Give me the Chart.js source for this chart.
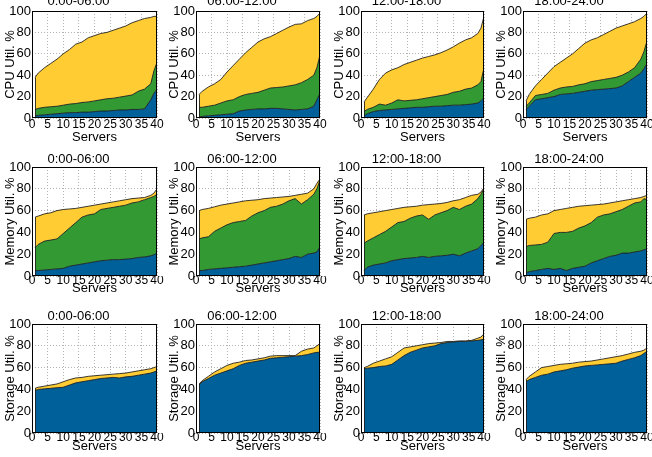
<!DOCTYPE html>
<html>
<head>
<meta charset="utf-8">
<script src="https://cdn.jsdelivr.net/npm/chart.js@4.4.1/dist/chart.umd.min.js"></script>
<style>
  html, body { margin: 0; padding: 0; background: #fff; overflow: hidden; }
  body { position: relative; width: 652px; height: 457px; }
  canvas { position: absolute; }
</style>
</head>
<body>
<script>
// server index on the x axis (servers sorted by utilisation)
const servers = [1, 2, 4, 6, 8, 10, 12, 14, 16, 18, 20, 22, 24, 26, 28, 30, 32, 34, 36, 38, 39, 40];
const periods = ['0:00-06:00', '06:00-12:00', '12:00-18:00', '18:00-24:00'];
const metricLabels = ['CPU Util. %', 'Memory Util. %', 'Storage Util. %'];

// cumulative top of each layer, one array per period
const cpuBlue = [
  [2, 2.5, 3, 3.5, 4, 4.5, 5, 5, 5.5, 5.5, 6, 6.5, 6.5, 7, 7.5, 7.5, 8, 8, 8.5, 17, 23, 27],
  [1, 1.5, 2, 2.5, 3, 3.5, 4, 6.5, 7.5, 8, 8.5, 8.5, 9, 9, 8.5, 8, 7.5, 8, 8.5, 11, 17, 23],
  [2, 4, 6, 7, 7.5, 8, 8.5, 9, 9.5, 10, 10, 10.5, 11, 11, 11.5, 12, 12, 12.5, 13, 14, 16, 19],
  [8, 11, 17, 18, 19, 20, 22, 22.5, 23, 24, 25, 26, 26.5, 27, 27.5, 28, 30, 34, 38, 42, 46, 51]
];
const cpuGreen = [
  [8, 9, 10, 10.5, 11, 12, 13, 13.5, 14.5, 15, 16, 17, 18, 18.5, 19.5, 20.5, 21.5, 25, 27, 32, 44, 52],
  [10, 10, 11, 12, 14, 16, 17, 20, 22, 23, 24, 26, 28, 28.5, 29, 30, 31, 33, 36, 40, 47, 59],
  [6, 8, 10, 13, 12, 14, 17, 16, 16.5, 17, 18, 19, 20, 21, 22, 24, 25, 27, 28, 31, 34, 47],
  [11, 14, 21, 22, 23, 26, 28, 29, 29.5, 31, 32, 34, 35, 36, 37, 38, 40, 43, 47, 55, 62, 72]
];
const cpuYellow = [
  [38, 42, 47, 51, 55, 60, 64, 69, 71, 75, 77, 79, 80, 82, 84, 86, 89, 91, 93, 94, 95, 95],
  [22, 25, 29, 32, 36, 43, 49, 55, 61, 66, 71, 74, 76, 79, 82, 85, 87.5, 88, 91, 93, 95, 98],
  [15, 19, 27, 36, 42, 45, 47, 50, 52, 54, 56, 57.5, 59, 61, 63.5, 66.5, 70, 73, 75, 79, 84, 95],
  [16, 22, 30, 36, 42, 48, 52, 56, 60, 65, 70, 73, 75, 78, 81, 84, 86, 88, 90, 93, 95, 98]
];

const memBlue = [
  [5, 5, 5.5, 6, 6.5, 7, 9, 10, 11, 12, 13, 14, 14.5, 15, 15, 15.5, 16, 17, 17.5, 18.5, 19.5, 21],
  [5, 5, 6, 6.5, 7, 7.5, 8, 8.5, 9, 10, 11, 12, 13, 14, 15, 16, 18, 17, 20, 21, 22, 27],
  [5, 8, 10, 11, 12, 14, 15, 16, 16.5, 17, 18, 17, 18, 18.5, 19, 20, 18.5, 21, 23, 25, 28, 31],
  [3, 4, 5, 6, 7, 6, 7, 5, 7, 8, 9, 12, 14, 16, 18, 19, 21, 21, 22, 23, 24, 25]
];
const memGreen = [
  [26, 29, 32, 33, 34, 39, 44, 49, 54, 56, 57, 61, 62, 63, 64, 65, 67, 68, 70, 72, 73, 75],
  [34, 35, 36, 41, 44, 47, 49, 50, 51, 55, 58, 60, 63, 64, 66, 69, 71, 66, 70, 75, 80, 88],
  [30, 32, 35, 38, 41, 45, 49, 50, 53, 55, 56, 52, 56, 58, 60, 63, 61, 64, 66, 71, 75, 80],
  [27, 28, 28.5, 29, 31, 39, 40, 40, 41, 44, 46, 49, 54, 56, 57, 59, 61, 64, 67, 68, 71, 70]
];
const memYellow = [
  [54, 55, 57, 58, 60, 61, 61.5, 62, 63, 64, 65, 66, 67, 68, 69, 70, 71, 71.5, 72, 74, 76, 80],
  [60, 61, 62, 63.5, 65, 66, 67, 68, 69, 69.5, 70, 71, 71.5, 72, 72.5, 73, 74, 75, 76, 80, 85, 89],
  [56, 57, 58, 59, 60, 61, 62, 63, 63.5, 64, 65, 65.5, 66, 66.5, 67.5, 69, 70, 72, 74, 75, 77, 81],
  [52, 53, 54, 56, 57, 60, 61, 62, 63, 64, 64.5, 65, 65.5, 66, 67, 68, 69, 70, 71, 72, 73, 74]
];

const storBlue = [
  [39, 40, 40.5, 41, 41.5, 42, 44, 46, 47, 48, 49, 50, 50.5, 51, 50.5, 51.5, 52, 53, 54, 55, 56, 57],
  [44, 47, 50, 53, 55, 57, 59, 62, 64, 65, 66, 67, 68.5, 69, 69.5, 70, 70.5, 71, 72, 73.5, 74, 74],
  [59, 59.5, 60, 61, 61.5, 63, 67, 71, 74, 76, 78, 79, 80, 82, 83, 83.5, 84, 84, 84.5, 85, 85.5, 86],
  [47, 49, 51, 53, 54, 56, 57, 58, 59.5, 60.5, 61.5, 62, 62.5, 63, 63.5, 64, 66, 67.5, 69, 71, 73, 75]
];
const storYellow = [
  [41, 42, 43, 44, 45, 47, 49, 50.5, 51, 52, 52.5, 53, 53.5, 54, 54.5, 55, 56, 57, 58, 59, 60, 61],
  [45, 48, 52, 56, 59, 62, 64, 65, 66.5, 67, 68, 69, 70.5, 71, 71, 71, 71, 75, 77, 78, 80, 82],
  [60, 61, 64, 66, 68, 70, 74, 78, 79, 80, 81, 82, 82.5, 83, 84, 84, 84.5, 84.5, 85, 87, 88, 91],
  [49, 52, 56, 60, 61, 62, 63, 63.5, 64, 65, 65.5, 66, 67, 68, 69, 70, 71, 72.5, 74, 75, 76, 78]
];

const BLUE = '#00609a', GREEN = '#339933', YELLOW = '#ffcc33';
const EDGE = 'rgba(25,25,25,0.85)';

const rows = [
  { layers: [cpuBlue, cpuGreen, cpuYellow], colors: [BLUE, GREEN, YELLOW] },
  { layers: [memBlue, memGreen, memYellow], colors: [BLUE, GREEN, YELLOW] },
  { layers: [storBlue, storYellow], colors: [BLUE, YELLOW] }
];

// page layout of the plot boxes
const colLeft = [32, 196, 361, 523];
const plotW = [125, 124, 123, 124];
const rowTop = [11, 167, 324];
const plotH = [107, 109, 109];
const titlePad = [3, 1, 1];
const tickPad = [0, -2, -2];
const xAxisH = [26, 19, 20];
const Y_AXIS_W = 32;

Chart.defaults.font.family = '"Liberation Sans", Arial, sans-serif';
Chart.defaults.font.size = 13;
Chart.defaults.color = '#000';

const font = { size: 13, lineHeight: '14px' };
const xTickFont = { size: 12, lineHeight: '14px' };

// black box round the plot and the left edge of the filled area
const framePlugin = {
  id: 'frame',
  afterDatasetsDraw(chart) {
    const ctx = chart.ctx, a = chart.chartArea;
    const last = chart.getDatasetMeta(chart.data.datasets.length - 1).data[0];
    const y0 = chart.scales.y.getPixelForValue(0);
    ctx.save();
    ctx.strokeStyle = EDGE;
    ctx.lineWidth = 1;
    ctx.beginPath();
    ctx.moveTo(Math.round(last.x) + 0.5, last.y);
    ctx.lineTo(Math.round(last.x) + 0.5, y0);
    ctx.stroke();
    ctx.strokeStyle = '#000';
    ctx.strokeRect(a.left + 0.5, a.top + 0.5, a.width - 1, a.height - 1);
    ctx.restore();
  }
};

function makePanel(r, c) {
  const titleBox = 14 + titlePad[r];
  const canvas = document.createElement('canvas');
  canvas.width = Y_AXIS_W + plotW[c] + 8;
  canvas.height = titleBox + plotH[r] + xAxisH[r];
  canvas.style.left = (colLeft[c] - Y_AXIS_W) + 'px';
  canvas.style.top = (rowTop[r] - titleBox) + 'px';
  document.body.appendChild(canvas);

  const datasets = rows[r].layers.map((layer, i) => ({
    data: servers.map((s, k) => ({ x: s, y: layer[c][k] })),
    backgroundColor: rows[r].colors[i],
    borderColor: EDGE,
    borderWidth: 1,
    pointRadius: 0,
    tension: 0,
    fill: i === 0 ? 'origin' : '-1'
  }));

  const grid = { color: '#b3b3b3', lineWidth: 1, drawTicks: false };
  const border = { display: false, dash: [1, 2] };

  new Chart(canvas, {
    type: 'line',
    data: { datasets },
    options: {
      responsive: false,
      animation: false,
      devicePixelRatio: 1,
      layout: { padding: { left: 0, right: 8, top: 0, bottom: 0 } },
      plugins: {
        legend: { display: false },
        tooltip: { enabled: false },
        title: {
          display: true,
          text: periods[c],
          color: '#000',
          font: { size: 13, lineHeight: '14px', weight: 'normal' },
          padding: { top: 0, bottom: titlePad[r] }
        }
      },
      scales: {
        x: {
          type: 'linear', min: 0, max: 40,
          ticks: { stepSize: 5, autoSkip: false, maxRotation: 0, minRotation: 0, padding: tickPad[r], font: xTickFont },
          grid, border,
          title: { display: true, text: 'Servers', font, padding: 0, color: '#000' },
          afterFit: s => { s.height = xAxisH[r]; }
        },
        y: {
          min: 0, max: 100,
          ticks: { stepSize: 20, autoSkip: false, padding: 1, font },
          grid, border,
          title: { display: true, text: metricLabels[r], font, padding: { top: 3, bottom: 0 }, color: '#000' },
          afterFit: s => { s.width = Y_AXIS_W; }
        }
      }
    },
    plugins: [framePlugin]
  });
}

for (let r = 0; r < 3; r++) {
  for (let c = 0; c < 4; c++) makePanel(r, c);
}
</script>
</body>
</html>
